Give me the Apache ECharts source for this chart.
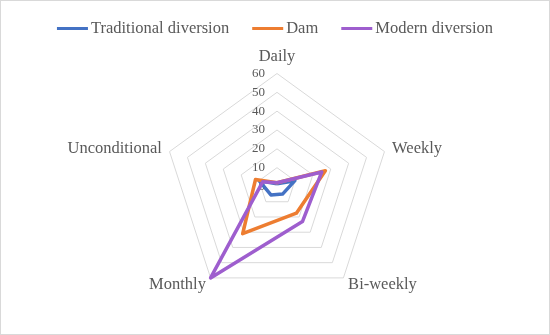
<!DOCTYPE html>
<html>
<head>
<meta charset="utf-8">
<script src="https://cdn.jsdelivr.net/npm/echarts@6/dist/echarts.min.js"></script>
<style>
html,body{margin:0;padding:0;background:#fff;}
#c{width:548px;height:333px;border:1px solid #d9d9d9;}
</style>
</head>
<body>
<div id="c"></div>
<script>
var categories = ['Daily', 'Weekly', 'Bi-weekly', 'Monthly', 'Unconditional'];
var seriesNames = ['Traditional diversion', 'Dam', 'Modern diversion'];
var traditional = [1.5, 10, 5, 5.5, 10];
var dam = [2, 27, 17.5, 31, 12];
var modern = [2, 25, 23, 60, 8];
var axisMax = 60;
var tickLabels = [0, 10, 20, 30, 40, 50, 60];
var colors = ['#4472C4', '#ED7D31', '#9E5ECE'];

// ECharts radar runs counter-clockwise; reorder so categories go clockwise like the original
var order = [0, 4, 3, 2, 1];

var chart = echarts.init(document.getElementById('c'));
var font = '"Liberation Serif", "Times New Roman", serif';
var indicator = order.map(function (idx, i) {
  var o = { name: categories[idx], max: axisMax, min: 0 };
  if (i === 0) {
    o.axisLabel = {
      show: true, color: '#595959', fontSize: 13, fontFamily: font, margin: 12,
      verticalAlign: 'middle',
      formatter: function (v) { return tickLabels.indexOf(v) >= 0 ? String(v) : ''; }
    };
  }
  return o;
});
var data = [traditional, dam, modern];
chart.setOption({
  animation: false,
  color: colors,
  legend: {
    top: 14, left: 'center',
    icon: 'rect', itemWidth: 31, itemHeight: 3, itemGap: 23,
    textStyle: { color: '#595959', fontSize: 16.5, fontFamily: font, padding: [0, 0, 0, -2] },
    data: seriesNames
  },
  radar: {
    center: [276, 185.5],
    radius: 113,
    shape: 'polygon',
    splitNumber: 6,
    startAngle: 90,
    indicator: indicator,
    nameGap: 8,
    axisName: { color: '#595959', fontSize: 16.5, fontFamily: font },
    axisLine: { show: false },
    axisTick: { show: false },
    axisLabel: { show: false },
    splitLine: { lineStyle: { color: '#d9d9d9', width: 1 } },
    splitArea: { show: false }
  },
  series: [{
    type: 'radar',
    symbol: 'none',
    data: seriesNames.map(function (n, i) {
      return {
        name: n,
        value: order.map(function (idx) { return data[i][idx]; }),
        lineStyle: { width: 3.5, color: colors[i] },
        itemStyle: { color: colors[i] }
      };
    })
  }]
});
</script>
</body>
</html>
